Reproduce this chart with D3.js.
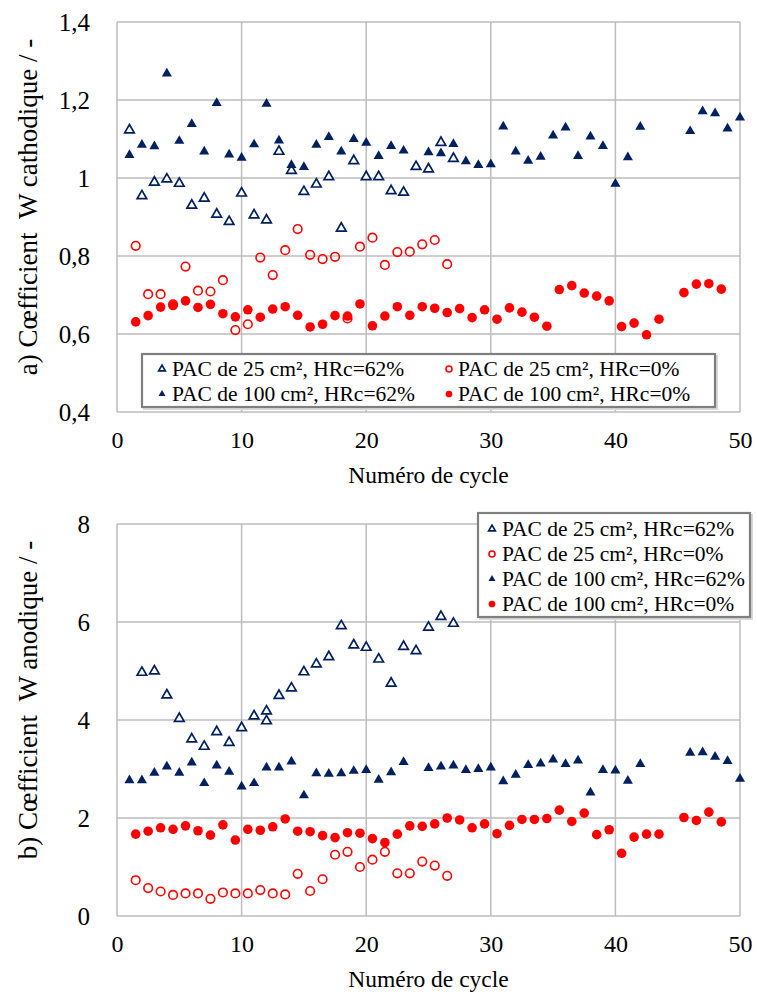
<!DOCTYPE html>
<html><head><meta charset="utf-8">
<script src="https://cdn.jsdelivr.net/npm/d3@7"></script>
</head><body style="margin:0">
<svg id="chart" width="757" height="1000"></svg>
<script>
// ---------- Panel a) W cathodique ----------
const aTri25X   = [1,2,3,4,5,6,7,8,9,10,11,12,13,14,15,16,17,18,19,20,21,22,23,24,25,26,27];
const aTri25Y   = [1.123,0.954,0.989,0.997,0.986,0.930,0.948,0.907,0.888,0.961,0.905,0.892,1.068,1.019,0.965,0.984,1.003,0.871,1.044,1.003,1.003,0.967,0.963,1.029,1.023,1.091,1.050];
const aCirc25X  = [1.5,2.5,3.5,4.5,5.5,6.5,7.5,8.5,9.5,10.5,11.5,12.5,13.5,14.5,15.5,16.5,17.5,18.5,19.5,20.5,21.5,22.5,23.5,24.5,25.5,26.5];
const aCirc25Y  = [0.826,0.702,0.702,0.676,0.773,0.711,0.709,0.738,0.610,0.625,0.796,0.751,0.815,0.869,0.803,0.792,0.798,0.640,0.824,0.847,0.777,0.810,0.811,0.830,0.841,0.779];
const aTri100X  = [1,2,3,4,5,6,7,8,9,10,11,12,13,14,15,16,17,18,19,20,21,22,23,25,26,27,28,29,30,31,32,33,34,35,36,37,38,39,40,41,42,46,47,48,49,50];
const aTri100Y  = [1.059,1.085,1.081,1.268,1.095,1.138,1.068,1.192,1.060,1.052,1.086,1.190,1.096,1.033,1.028,1.085,1.105,1.068,1.100,1.090,1.056,1.082,1.070,1.066,1.063,1.087,1.043,1.033,1.035,1.132,1.068,1.044,1.054,1.109,1.129,1.056,1.106,1.082,0.985,1.053,1.131,1.120,1.171,1.166,1.127,1.155];
const aCirc100X = [1.5,2.5,3.5,4.5,5.5,6.5,7.5,8.5,9.5,10.5,11.5,12.5,13.5,14.5,15.5,16.5,17.5,18.5,19.5,20.5,21.5,22.5,23.5,24.5,25.5,26.5,27.5,28.5,29.5,30.5,31.5,32.5,33.5,34.5,35.5,36.5,37.5,38.5,39.5,40.5,41.5,42.5,43.5,45.5,46.5,47.5,48.5];
const aCirc100Y = [0.631,0.647,0.669,0.673,0.685,0.668,0.676,0.652,0.644,0.662,0.643,0.664,0.670,0.648,0.618,0.625,0.647,0.646,0.677,0.621,0.646,0.670,0.648,0.670,0.666,0.655,0.665,0.642,0.662,0.638,0.667,0.656,0.643,0.620,0.714,0.724,0.705,0.697,0.685,0.619,0.628,0.598,0.638,0.706,0.728,0.729,0.715];

// ---------- Panel b) W anodique ----------
const bTri25X   = [2,3,4,5,6,7,8,9,10,11,12,12,13,14,15,16,17,18,19,20,21,22,23,24,25,26,27];
const bTri25Y   = [4.97,5.00,4.51,4.03,3.61,3.46,3.76,3.54,3.84,4.08,4.18,3.98,4.50,4.65,4.98,5.14,5.29,5.92,5.53,5.48,5.24,4.75,5.50,5.41,5.89,6.11,5.97];
const bCirc25X  = [1.5,2.5,3.5,4.5,5.5,6.5,7.5,8.5,9.5,10.5,11.5,12.5,13.5,14.5,15.5,16.5,17.5,18.5,19.5,20.5,21.5,22.5,23.5,24.5,25.5,26.5];
const bCirc25Y  = [0.73,0.57,0.50,0.43,0.46,0.46,0.35,0.48,0.46,0.46,0.53,0.46,0.44,0.86,0.51,0.75,1.25,1.31,1.00,1.15,1.31,0.87,0.87,1.11,1.03,0.82];
const bTri100X  = [1,2,3,4,5,6,7,8,9,10,11,12,13,14,15,16,17,18,19,20,21,22,23,25,26,27,28,29,30,31,32,33,34,35,36,37,38,39,40,41,42,46,47,48,49,50];
const bTri100Y  = [2.77,2.77,2.92,3.05,2.92,3.13,2.71,3.07,2.94,2.64,2.71,3.03,3.03,3.15,2.46,2.91,2.90,2.91,2.96,2.98,2.78,2.93,3.14,3.02,3.05,3.07,2.98,3.00,3.03,2.75,2.88,3.08,3.11,3.19,3.10,3.17,2.52,2.98,2.97,2.76,3.10,3.33,3.34,3.25,3.16,2.80];
const bCirc100X = [1.5,2.5,3.5,4.5,5.5,6.5,7.5,8.5,9.5,10.5,11.5,12.5,13.5,14.5,15.5,16.5,17.5,18.5,19.5,20.5,21.5,22.5,23.5,24.5,25.5,26.5,27.5,28.5,29.5,30.5,31.5,32.5,33.5,34.5,35.5,36.5,37.5,38.5,39.5,40.5,41.5,42.5,43.5,45.5,46.5,47.5,48.5];
const bCirc100Y = [1.67,1.73,1.80,1.77,1.84,1.74,1.65,1.86,1.55,1.77,1.75,1.82,1.98,1.73,1.72,1.64,1.60,1.70,1.69,1.58,1.50,1.67,1.84,1.83,1.88,2.00,1.96,1.80,1.88,1.68,1.85,1.97,1.97,1.99,2.16,1.93,2.10,1.66,1.76,1.28,1.61,1.67,1.67,2.01,1.95,2.12,1.92];

const seriesNames = ["PAC de 25 cm², HRc=62%","PAC de 25 cm², HRc=0%","PAC de 100 cm², HRc=62%","PAC de 100 cm², HRc=0%"];
const xTicks = [0,10,20,30,40,50];
const aYTicks = [0.4,0.6,0.8,1.0,1.2,1.4];
const bYTicks = [0,2,4,6,8];
const xTitle = "Numéro de cycle";
const aYTitle = "a) Cœfficient\u00a0\u00a0W cathodique / -";
const bYTitle = "b) Cœfficient\u00a0\u00a0W anodique / -";

const NAVY = "#002060", RED = "#ff0000", GRID = "#bcbcbc";
const svg = d3.select("#chart");
svg.append("rect").attr("width",757).attr("height",1000).attr("fill","#fff");

const fmt = d => String(+d.toFixed(1)).replace(".", ",");
const kinds = ["triOpen","circOpen","triFill","circFill"];
const serif = (sel, size) => sel.style("font-family", '"Times New Roman", "Liberation Serif", serif')
  .attr("font-size", size).attr("fill", "#000");

function marker(sel, kind, small) {
  const s = small ? 0.7 : 1;
  if (kind === "triOpen") {
    sel.append("path").attr("d", d3.symbol().type(d3.symbolTriangle).size(40*s*s)())
      .attr("fill","#fff").attr("stroke",NAVY).attr("stroke-width",1.7);
  } else if (kind === "triFill") {
    sel.append("path").attr("d", d3.symbol().type(d3.symbolTriangle).size(44*s*s)())
      .attr("fill",NAVY);
  } else if (kind === "circOpen") {
    sel.append("circle").attr("r",4.3*s).attr("fill","none").attr("stroke",RED).attr("stroke-width",1.6);
  } else {
    sel.append("circle").attr("r",4.8*s).attr("fill",RED);
  }
}

function panel(cfg) {
  const x = d3.scaleLinear().domain([0,50]).range([117,740]);
  const y = d3.scaleLinear().domain(cfg.yDomain).range([cfg.bottom, cfg.top]);
  const g = svg.append("g");
  g.selectAll(".hg").data(cfg.yTicks).join("line")
    .attr("x1",x(0)).attr("x2",x(50)).attr("y1",d=>y(d)).attr("y2",d=>y(d))
    .attr("stroke",GRID).attr("stroke-width",1.5);
  g.selectAll(".vg").data(xTicks).join("line")
    .attr("y1",y(cfg.yDomain[0])).attr("y2",y(cfg.yDomain[1])).attr("x1",d=>x(d)).attr("x2",d=>x(d))
    .attr("stroke",GRID).attr("stroke-width",1.5);
  const yAxis = g.append("g").attr("transform",`translate(${x(0)},0)`)
    .call(d3.axisLeft(y).tickValues(cfg.yTicks).tickFormat(cfg.fmt).tickSize(0).tickPadding(27));
  yAxis.attr("font-family",null).attr("font-size",null);
  yAxis.select(".domain").remove();
  yAxis.selectAll("text").call(serif, 25);
  const xAxis = g.append("g").attr("transform",`translate(0,${cfg.bottom})`)
    .call(d3.axisBottom(x).tickValues(xTicks).tickFormat(d3.format("d")).tickSize(0).tickPadding(19));
  xAxis.attr("font-family",null).attr("font-size",null);
  xAxis.select(".domain").remove();
  xAxis.selectAll("text").call(serif, 24);
  g.append("text").attr("x",(x(0)+x(50))/2).attr("y",cfg.bottom+71).attr("text-anchor","middle")
    .call(serif, 23.5).text(xTitle);
  g.append("text").attr("transform",`translate(37,${cfg.titleY}) rotate(-90)`).attr("text-anchor","middle")
    .call(serif, 27).text(cfg.yTitle);
  cfg.series.forEach((s,i) => {
    const pts = s.x.map((v,j)=>[v,s.y[j]]);
    g.append("g").selectAll("g").data(pts).join("g")
      .attr("transform",d=>`translate(${x(d[0])},${y(d[1])})`)
      .each(function(){ marker(d3.select(this), kinds[i], false); });
  });
  const L = cfg.legend;
  g.append("rect").attr("x",L.x+2).attr("y",L.y+2).attr("width",L.w).attr("height",L.h)
    .attr("fill","none").attr("stroke","#d8d8d8").attr("stroke-width",2);
  g.append("rect").attr("x",L.x).attr("y",L.y).attr("width",L.w).attr("height",L.h)
    .attr("fill","#fff").attr("stroke","#7f7f7f").attr("stroke-width",2.2);
  L.items.forEach(it => {
    const lg = g.append("g").attr("transform",`translate(${it.mx},${it.cy})`);
    marker(lg, kinds[it.k], true);
    g.append("text").attr("x",it.tx).attr("y",it.cy+7).call(serif, 21.5).text(seriesNames[it.k]);
  });
}

panel({
  yDomain:[0.4,1.4], top:22, bottom:412, yTicks:aYTicks, fmt:fmt, yTitle:aYTitle, titleY:207,
  series:[{x:aTri25X,y:aTri25Y},{x:aCirc25X,y:aCirc25Y},{x:aTri100X,y:aTri100Y},{x:aCirc100X,y:aCirc100Y}],
  legend:{x:142,y:354,w:573,h:53,items:[
    {k:0,mx:162,tx:172,cy:369},{k:1,mx:449,tx:458,cy:369},
    {k:2,mx:162,tx:172,cy:394},{k:3,mx:449,tx:458,cy:394}]}
});
panel({
  yDomain:[0,8], top:524, bottom:916, yTicks:bYTicks, fmt:d3.format("d"), yTitle:bYTitle, titleY:700,
  series:[{x:bTri25X,y:bTri25Y},{x:bCirc25X,y:bCirc25Y},{x:bTri100X,y:bTri100Y},{x:bCirc100X,y:bCirc100Y}],
  legend:{x:478,y:513,w:272,h:104,items:[
    {k:0,mx:492,tx:502,cy:529},{k:1,mx:492,tx:502,cy:554},
    {k:2,mx:492,tx:502,cy:579},{k:3,mx:492,tx:502,cy:604}]}
});
</script>
</body></html>
